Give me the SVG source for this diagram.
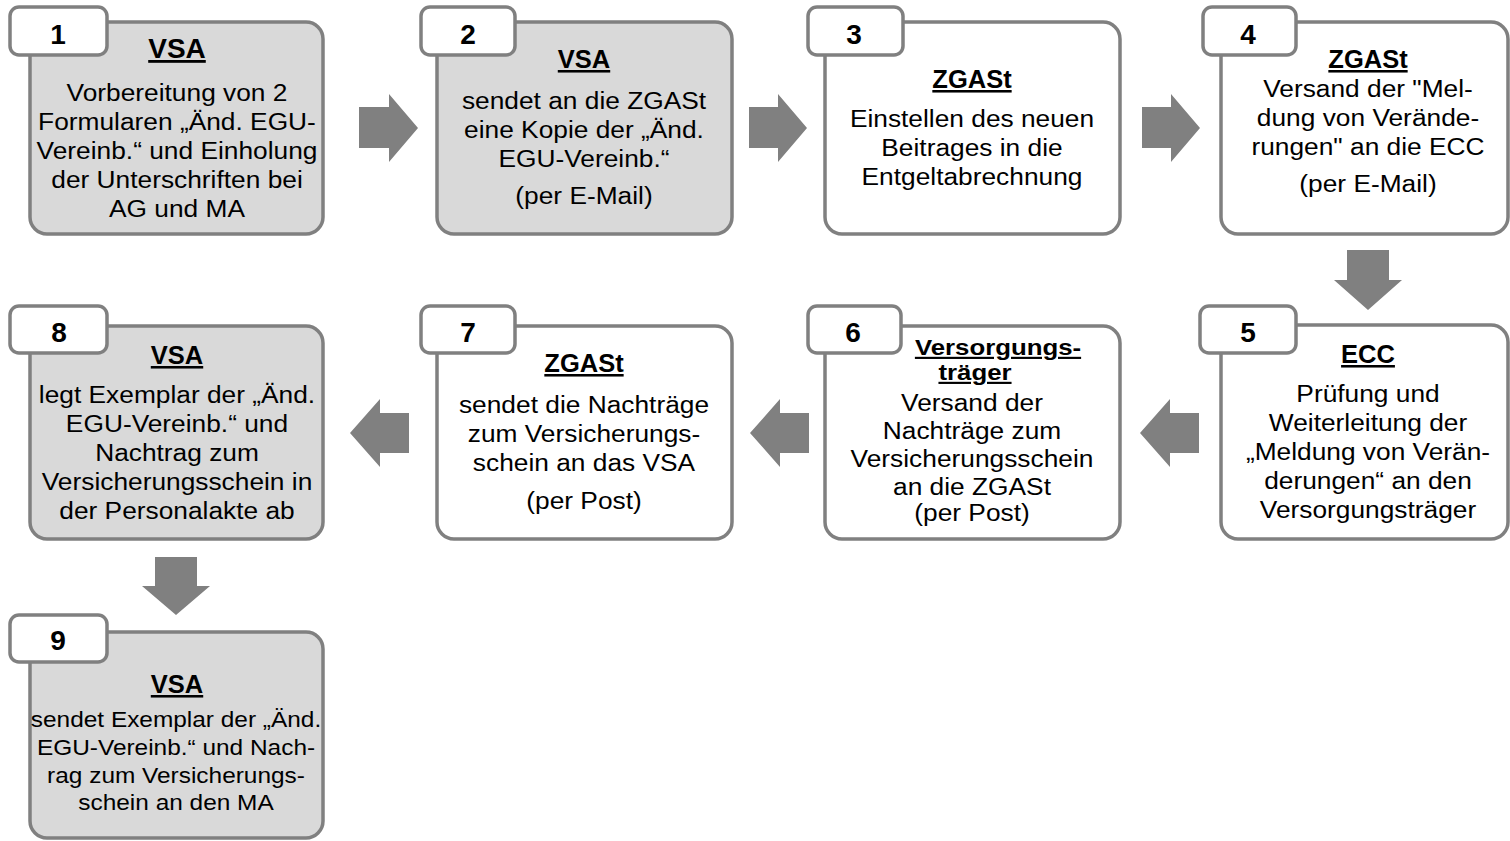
<svg xmlns="http://www.w3.org/2000/svg" width="1510" height="841" viewBox="0 0 1510 841">
<style>
.box{stroke:#808080;stroke-width:3.5}
.g{fill:#d9d9d9}
.w{fill:#ffffff}
.tag{fill:#ffffff;stroke:#808080;stroke-width:3.5}
.arr{fill:#808080}
text{font-family:"Liberation Sans",Arial,Helvetica,sans-serif;fill:#000;text-anchor:middle}
.n{font-size:28px;font-weight:bold}
.t{font-size:25.5px;font-weight:bold;text-decoration:underline}
.t2{font-size:21.5px;font-weight:bold;text-decoration:underline}
.b{font-size:23.5px}
.s{font-size:22px}
</style>
<g id="connectors">
<polygon class="arr" points="359,107 389,107 389,94 418,128 389,162 389,148 359,148"/>
<polygon class="arr" points="749,107 778,107 778,94 807,128 778,162 778,148 749,148"/>
<polygon class="arr" points="1142,107 1171,107 1171,94 1200,128 1171,162 1171,148 1142,148"/>
<polygon class="arr" points="1347,250 1389,250 1389,280 1402,280 1368,310 1334,280 1347,280"/>
<polygon class="arr" points="1199,413 1170,413 1170,399 1140,433 1170,467 1170,453 1199,453"/>
<polygon class="arr" points="809,413 780,413 780,399 750,433 780,467 780,453 809,453"/>
<polygon class="arr" points="409,413 380,413 380,399 350,433 380,467 380,453 409,453"/>
<polygon class="arr" points="155,557 197,557 197,586 210,586 176,615 142,586 155,586"/>
</g>
<g id="node1">
<rect class="box g" x="30" y="22" width="293" height="212" rx="17"/>
<rect class="tag" x="10" y="7" width="97" height="48" rx="9"/>
<text class="n" x="58" y="44">1</text>
<text class="t" x="177" y="58" style="font-size:28px">VSA</text>
<g transform="translate(177 0) scale(1.12 1)">
<text class="b" x="0" y="101">Vorbereitung von 2</text>
<text class="b" x="0" y="130">Formularen „Änd. EGU-</text>
<text class="b" x="0" y="159">Vereinb.“ und Einholung</text>
<text class="b" x="0" y="188">der Unterschriften bei</text>
<text class="b" x="0" y="217">AG und MA</text>
</g>
</g>
<g id="node2">
<rect class="box g" x="437" y="22" width="295" height="212" rx="17"/>
<rect class="tag" x="421" y="7" width="94" height="48" rx="9"/>
<text class="n" x="468" y="44">2</text>
<text class="t" x="584" y="68">VSA</text>
<g transform="translate(584 0) scale(1.12 1)">
<text class="b" x="0" y="109">sendet an die ZGASt</text>
<text class="b" x="0" y="138">eine Kopie der „Änd.</text>
<text class="b" x="0" y="167">EGU-Vereinb.“</text>
<text class="b" x="0" y="204">(per E-Mail)</text>
</g>
</g>
<g id="node3">
<rect class="box w" x="825" y="22" width="295" height="212" rx="17"/>
<rect class="tag" x="808" y="7" width="95" height="48" rx="9"/>
<text class="n" x="854" y="44">3</text>
<text class="t" x="972" y="88">ZGASt</text>
<g transform="translate(972 0) scale(1.12 1)">
<text class="b" x="0" y="127">Einstellen des neuen</text>
<text class="b" x="0" y="156">Beitrages in die</text>
<text class="b" x="0" y="185">Entgeltabrechnung</text>
</g>
</g>
<g id="node4">
<rect class="box w" x="1221" y="22" width="287" height="212" rx="17"/>
<rect class="tag" x="1203" y="7" width="93" height="48" rx="9"/>
<text class="n" x="1248" y="44">4</text>
<text class="t" x="1368" y="68">ZGASt</text>
<g transform="translate(1368 0) scale(1.12 1)">
<text class="b" x="0" y="97">Versand der "Mel-</text>
<text class="b" x="0" y="126">dung von Verände-</text>
<text class="b" x="0" y="155">rungen" an die ECC</text>
<text class="b" x="0" y="192">(per E-Mail)</text>
</g>
</g>
<g id="node5">
<rect class="box w" x="1221" y="325" width="287" height="214" rx="17"/>
<rect class="tag" x="1200" y="306" width="96" height="47" rx="9"/>
<text class="n" x="1248" y="342">5</text>
<text class="t" x="1368" y="363">ECC</text>
<g transform="translate(1368 0) scale(1.12 1)">
<text class="b" x="0" y="402">Prüfung und</text>
<text class="b" x="0" y="431">Weiterleitung der</text>
<text class="b" x="0" y="460">„Meldung von Verän-</text>
<text class="b" x="0" y="489">derungen“ an den</text>
<text class="b" x="0" y="518">Versorgungsträger</text>
</g>
</g>
<g id="node6">
<rect class="box w" x="825" y="326" width="295" height="213" rx="17"/>
<rect class="tag" x="808" y="306" width="93" height="47" rx="9"/>
<text class="n" x="853" y="342">6</text>
<g transform="translate(998 0) scale(1.2 1)">
<text class="t2" x="0" y="355">Versorgungs-</text>
</g>
<g transform="translate(975 0) scale(1.2 1)">
<text class="t2" x="0" y="380">träger</text>
</g>
<g transform="translate(972 0) scale(1.12 1)">
<text class="b" x="0" y="411">Versand der</text>
<text class="b" x="0" y="439">Nachträge zum</text>
<text class="b" x="0" y="467">Versicherungsschein</text>
<text class="b" x="0" y="495">an die ZGASt</text>
<text class="b" x="0" y="521">(per Post)</text>
</g>
</g>
<g id="node7">
<rect class="box w" x="437" y="326" width="295" height="213" rx="17"/>
<rect class="tag" x="421" y="306" width="94" height="47" rx="9"/>
<text class="n" x="468" y="342">7</text>
<text class="t" x="584" y="372">ZGASt</text>
<g transform="translate(584 0) scale(1.12 1)">
<text class="b" x="0" y="413">sendet die Nachträge</text>
<text class="b" x="0" y="442">zum Versicherungs-</text>
<text class="b" x="0" y="471">schein an das VSA</text>
<text class="b" x="0" y="509">(per Post)</text>
</g>
</g>
<g id="node8">
<rect class="box g" x="30" y="326" width="293" height="213" rx="17"/>
<rect class="tag" x="10" y="306" width="97" height="47" rx="9"/>
<text class="n" x="59" y="342">8</text>
<text class="t" x="177" y="364">VSA</text>
<g transform="translate(177 0) scale(1.12 1)">
<text class="b" x="0" y="403">legt Exemplar der „Änd.</text>
<text class="b" x="0" y="432">EGU-Vereinb.“ und</text>
<text class="b" x="0" y="461">Nachtrag zum</text>
<text class="b" x="0" y="490">Versicherungsschein in</text>
<text class="b" x="0" y="519">der Personalakte ab</text>
</g>
</g>
<g id="node9">
<rect class="box g" x="30" y="632" width="293" height="206" rx="17"/>
<rect class="tag" x="10" y="615" width="97" height="47" rx="9"/>
<text class="n" x="58" y="650">9</text>
<text class="t" x="177" y="693">VSA</text>
<g transform="translate(176 0) scale(1.11 1)">
<text class="s" x="0" y="727">sendet Exemplar der „Änd.</text>
<text class="s" x="0" y="755">EGU-Vereinb.“ und Nach-</text>
<text class="s" x="0" y="783">rag zum Versicherungs-</text>
<text class="s" x="0" y="810">schein an den MA</text>
</g>
</g>
</svg>
